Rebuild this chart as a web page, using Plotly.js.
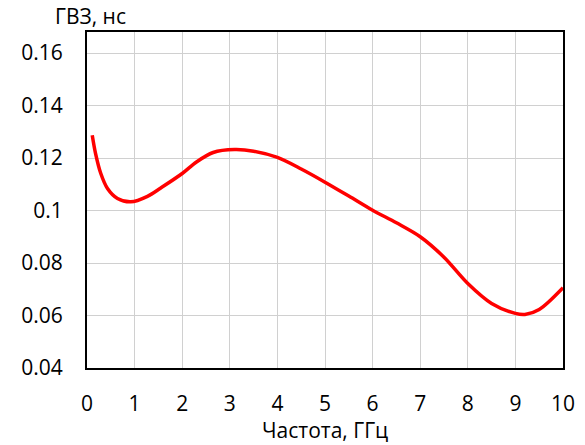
<!DOCTYPE html>
<html>
<head>
<meta charset="utf-8">
<script src="https://cdn.plot.ly/plotly-3.0.1.min.js"></script>
<style>html,body{margin:0;padding:0;background:#fff;}#chart{width:585px;height:445px;}</style>
</head>
<body>
<div id="chart"></div>
<script>
const freqGHz = [0.11, 0.18, 0.29, 0.43, 0.64, 0.92, 1.27, 1.55, 2.0, 2.3, 2.65, 3.1, 3.5, 4.0, 4.5, 5.0, 5.5, 6.0, 6.5, 7.0, 7.5, 8.0, 8.5, 9.0, 9.2, 9.5, 10.0];
const gdNs = [0.1287, 0.1217, 0.1141, 0.1084, 0.1046, 0.1033, 0.1054, 0.1086, 0.1141, 0.1185, 0.1221, 0.1232, 0.1226, 0.1202, 0.1158, 0.1108, 0.1055, 0.1001, 0.0953, 0.0900, 0.0822, 0.0722, 0.0646, 0.0608, 0.0604, 0.0623, 0.0706];
const xTicks = [0,1,2,3,4,5,6,7,8,9,10];
const yTicks = [0.04,0.06,0.08,0.1,0.12,0.14,0.16];
const yTickText = ['0.04','0.06','0.08','0.1','0.12','0.14','0.16'];
const yTitle = 'ГВЗ, нс';
const xTitle = 'Частота, ГГц';

const font = '"Open Sans", Lato, sans-serif';
const data = [{
  x: freqGHz, y: gdNs, type: 'scatter', mode: 'lines',
  line: {color: '#ff0000', width: 3.5, shape: 'spline', smoothing: 0.9}
}];
const layout = {
  width: 585, height: 445,
  margin: {l: 87, r: 22, t: 32, b: 77},
  paper_bgcolor: '#fff', plot_bgcolor: '#fff',
  showlegend: false,
  font: {family: font, size: 21, color: '#000'},
  xaxis: {
    range: [0, 10], tickvals: xTicks, ticktext: xTicks.map(String),
    showgrid: true, gridcolor: '#d0d0d0', gridwidth: 1,
    showline: true, linecolor: '#000', linewidth: 2, mirror: true,
    zeroline: false, ticks: 'outside', ticklen: 16, tickcolor: 'rgba(0,0,0,0)',
    tickfont: {family: font, size: 21, color: '#000'}
  },
  yaxis: {
    range: [0.04, 0.168], tickvals: yTicks, ticktext: yTickText,
    showgrid: true, gridcolor: '#d0d0d0', gridwidth: 1,
    showline: true, linecolor: '#000', linewidth: 2, mirror: true,
    zeroline: false, ticks: 'outside', ticklen: 18, tickcolor: 'rgba(0,0,0,0)',
    tickfont: {family: font, size: 21, color: '#000'}
  },
  annotations: [{
    text: yTitle, xref: 'paper', yref: 'paper', x: -0.072, y: 1.0, yshift: 16,
    xanchor: 'left', yanchor: 'middle', showarrow: false,
    font: {family: font, size: 21, color: '#000'}
  }, {
    text: xTitle, xref: 'paper', yref: 'paper', x: 0.5, y: 0, yshift: -62,
    xanchor: 'center', yanchor: 'middle', showarrow: false,
    font: {family: font, size: 21, color: '#000'}
  }]
};
Plotly.newPlot('chart', data, layout, {displayModeBar: false, staticPlot: true});
</script>
</body>
</html>
